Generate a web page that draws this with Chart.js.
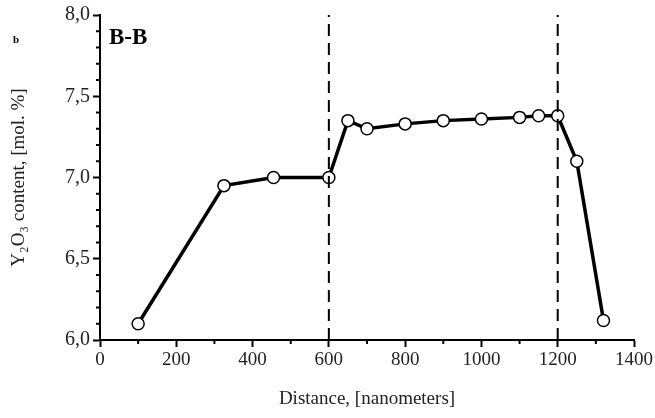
<!DOCTYPE html>
<html>
<head>
    <title>Y2O3 content B-B</title>
    <script src="https://cdn.jsdelivr.net/npm/chart.js"></script>
    <style>
        body { margin: 0; background: #fff; }
        #wrap { width: 655px; height: 418px; position: relative; }
    </style>
</head>
<body>
    <div id="wrap"><canvas id="yChart"></canvas></div>
    <script>
        // data
        const distance = [100, 325, 455, 600, 650, 700, 800, 900, 1000, 1100, 1150, 1200, 1250, 1320];
        const y2o3 = [6.10, 6.95, 7.00, 7.00, 7.35, 7.30, 7.33, 7.35, 7.36, 7.37, 7.38, 7.38, 7.10, 6.12];
        const boundaries = [600, 1200];
        const xTicks = [0, 200, 400, 600, 800, 1000, 1200, 1400];
        const yTicks = [6.0, 6.5, 7.0, 7.5, 8.0];

        const serif = "'Liberation Serif', 'DejaVu Serif', serif";

        // minor ticks + labels inside the plot
        const extras = {
            id: 'extras',
            afterDraw(chart) {
                const ctx = chart.ctx;
                const xs = chart.scales.x, ys = chart.scales.y;
                ctx.save();
                ctx.strokeStyle = '#000';
                ctx.lineWidth = 2;
                for (let v = 100; v < 1400; v += 200) {
                    const px = xs.getPixelForValue(v);
                    ctx.beginPath();
                    ctx.moveTo(px, xs.top);
                    ctx.lineTo(px, xs.top + 4);
                    ctx.stroke();
                }
                for (let i = 0; i < 20; i++) {
                    if (i % 5 === 0) continue;
                    const py = ys.getPixelForValue(6 + i * 0.1);
                    ctx.beginPath();
                    ctx.moveTo(ys.right, py);
                    ctx.lineTo(ys.right - 4, py);
                    ctx.stroke();
                }
                ctx.fillStyle = '#000';
                ctx.textBaseline = 'middle';
                ctx.font = "bold 23px " + serif;
                ctx.fillText('B-B', 109, 38);
                ctx.font = "bold 11px " + serif;
                ctx.fillText('b', 13, 40);
                ctx.restore();
            }
        };

        const ctx = document.getElementById('yChart').getContext('2d');
        new Chart(ctx, {
            type: 'line',
            data: {
                datasets: [
                    ...boundaries.map(b => ({
                        data: [{ x: b, y: 6 }, { x: b, y: 8 }],
                        borderColor: '#000',
                        borderWidth: 2,
                        borderDash: [12, 7],
                        pointRadius: 0
                    })),
                    {
                        data: distance.map((d, i) => ({ x: d, y: y2o3[i] })),
                        borderColor: '#000',
                        borderWidth: 3.5,
                        pointRadius: 6,
                        pointBackgroundColor: '#fff',
                        pointBorderColor: '#000',
                        pointBorderWidth: 1.5,
                        tension: 0
                    }
                ]
            },
            options: {
                responsive: true,
                maintainAspectRatio: false,
                animation: false,
                plugins: { legend: { display: false }, tooltip: { enabled: false } },
                layout: { padding: { left: 4, right: 0, top: 14, bottom: 4 } },
                scales: {
                    x: {
                        type: 'linear',
                        min: 0, max: 1400,
                        afterBuildTicks: s => { s.ticks = xTicks.map(v => ({ value: v })); },
                        afterFit: s => { s.height = 74; },
                        border: { color: '#000', width: 2 },
                        grid: { drawOnChartArea: false, color: '#000', tickLength: 7, tickWidth: 2 },
                        ticks: { color: '#222', font: { family: serif, size: 19 }, padding: 2,
                                 callback: v => String(v) },
                        title: { display: true, text: 'Distance, [nanometers]', color: '#222',
                                 font: { family: serif, size: 19 }, padding: { top: 4 } }
                    },
                    y: {
                        min: 6, max: 8,
                        afterBuildTicks: s => { s.ticks = yTicks.map(v => ({ value: v })); },
                        afterFit: s => { s.width = 96; },
                        border: { color: '#000', width: 2 },
                        grid: { drawOnChartArea: false, color: '#000', tickLength: 7, tickWidth: 2 },
                        ticks: { color: '#222', font: { family: serif, size: 20 }, padding: 3,
                                 callback: v => v.toFixed(1).replace('.', ',') },
                        title: { display: true, text: 'Y₂O₃ content, [mol. %]', color: '#222',
                                 font: { family: serif, size: 19 }, padding: { bottom: 8 } }
                    }
                }
            },
            plugins: [extras]
        });
    </script>
</body>
</html>
